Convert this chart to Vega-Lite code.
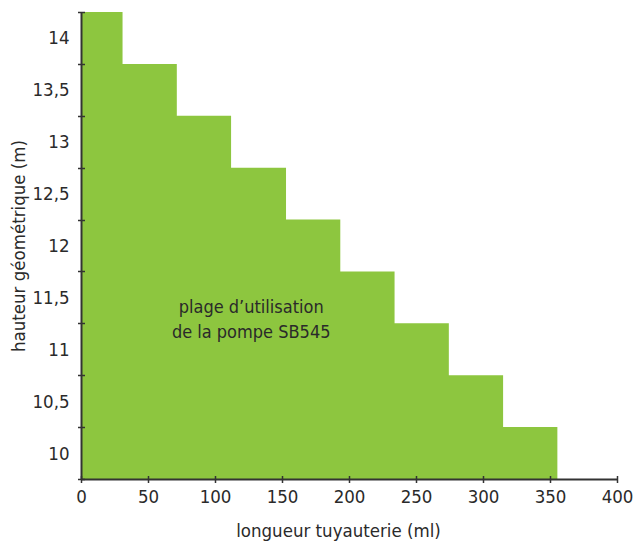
{
  "$schema": "https://vega.github.io/schema/vega-lite/v6.json",
  "width": 536,
  "height": 467,
  "autosize": "none",
  "padding": {"left": 81, "top": 12, "right": 18, "bottom": 65},
  "background": "white",
  "config": {
    "view": {"stroke": null},
    "font": "DejaVu Sans Condensed, Roboto, sans-serif",
    "axis": {"grid": false, "domainColor": "#333333", "tickColor": "#333333", "labelColor": "#2a2a2a", "titleColor": "#2a2a2a", "labelFont": "DejaVu Sans Condensed, Roboto, sans-serif", "titleFont": "DejaVu Sans Condensed, Roboto, sans-serif", "labelFontSize": 18.5, "titleFontSize": 18.5, "titleFontWeight": "normal", "domainWidth": 2, "tickWidth": 1.5}
  },
  "datasets": {
    "steps": [
      {"longueur": 0, "hauteur": 14.25},
      {"longueur": 31, "hauteur": 13.75},
      {"longueur": 71.5, "hauteur": 13.25},
      {"longueur": 112, "hauteur": 12.75},
      {"longueur": 153, "hauteur": 12.25},
      {"longueur": 193.5, "hauteur": 11.75},
      {"longueur": 234, "hauteur": 11.25},
      {"longueur": 274.5, "hauteur": 10.75},
      {"longueur": 315, "hauteur": 10.25},
      {"longueur": 355.5, "hauteur": 10.25}
    ],
    "labels": [
      {"longueur": 127, "hauteur": 11.4, "texte": "plage d’utilisation"},
      {"longueur": 127, "hauteur": 11.16, "texte": "de la pompe SB545"}
    ]
  },
  "layer": [
    {
      "data": {"name": "steps"},
      "mark": {"type": "area", "interpolate": "step-after", "color": "#8dc63f"},
      "encoding": {
        "x": {"field": "longueur", "type": "quantitative", "scale": {"domain": [0, 400], "nice": false},
          "axis": {"orient": "bottom", "zindex": 2, "title": "longueur tuyauterie (ml)", "titleX": 257, "values": [0, 50, 100, 150, 200, 250, 300, 350, 400], "ticks": false, "labelPadding": 8, "titlePadding": 16, "labelFlush": false}},
        "y": {"field": "hauteur", "type": "quantitative", "scale": {"domain": [9.75, 14.25], "nice": false, "zero": false},
          "axis": {"orient": "left", "zindex": 2, "title": "hauteur géométrique (m)", "values": [10, 10.5, 11, 11.5, 12, 12.5, 13, 13.5, 14], "ticks": false, "labelPadding": 12, "titlePadding": 3, "labelExpr": "replace(format(datum.value, '.1~f'), '.', ',')", "labelFlush": false}},
        "y2": {"datum": 9.75}
      }
    },
    {
      "data": {"name": "labels"},
      "mark": {"type": "text", "font": "DejaVu Sans Condensed, Roboto, sans-serif", "fontSize": 18, "color": "#2a2a2a", "align": "center", "baseline": "middle"},
      "encoding": {
        "x": {"field": "longueur", "type": "quantitative",
          "axis": {"orient": "bottom", "zindex": 2, "title": null, "labels": false, "domain": false, "values": [0, 50, 100, 150, 200, 250, 300, 350, 400], "tickSize": 7, "offset": -3.5}},
        "y": {"field": "hauteur", "type": "quantitative",
          "axis": {"orient": "left", "zindex": 2, "title": null, "labels": false, "domain": false, "values": [9.75, 10.25, 10.75, 11.25, 11.75, 12.25, 12.75, 13.25, 13.75, 14.25], "tickSize": 7, "offset": -3.5}},
        "text": {"field": "texte"}
      }
    }
  ],
  "resolve": {"axis": {"x": "independent", "y": "independent"}}
}
